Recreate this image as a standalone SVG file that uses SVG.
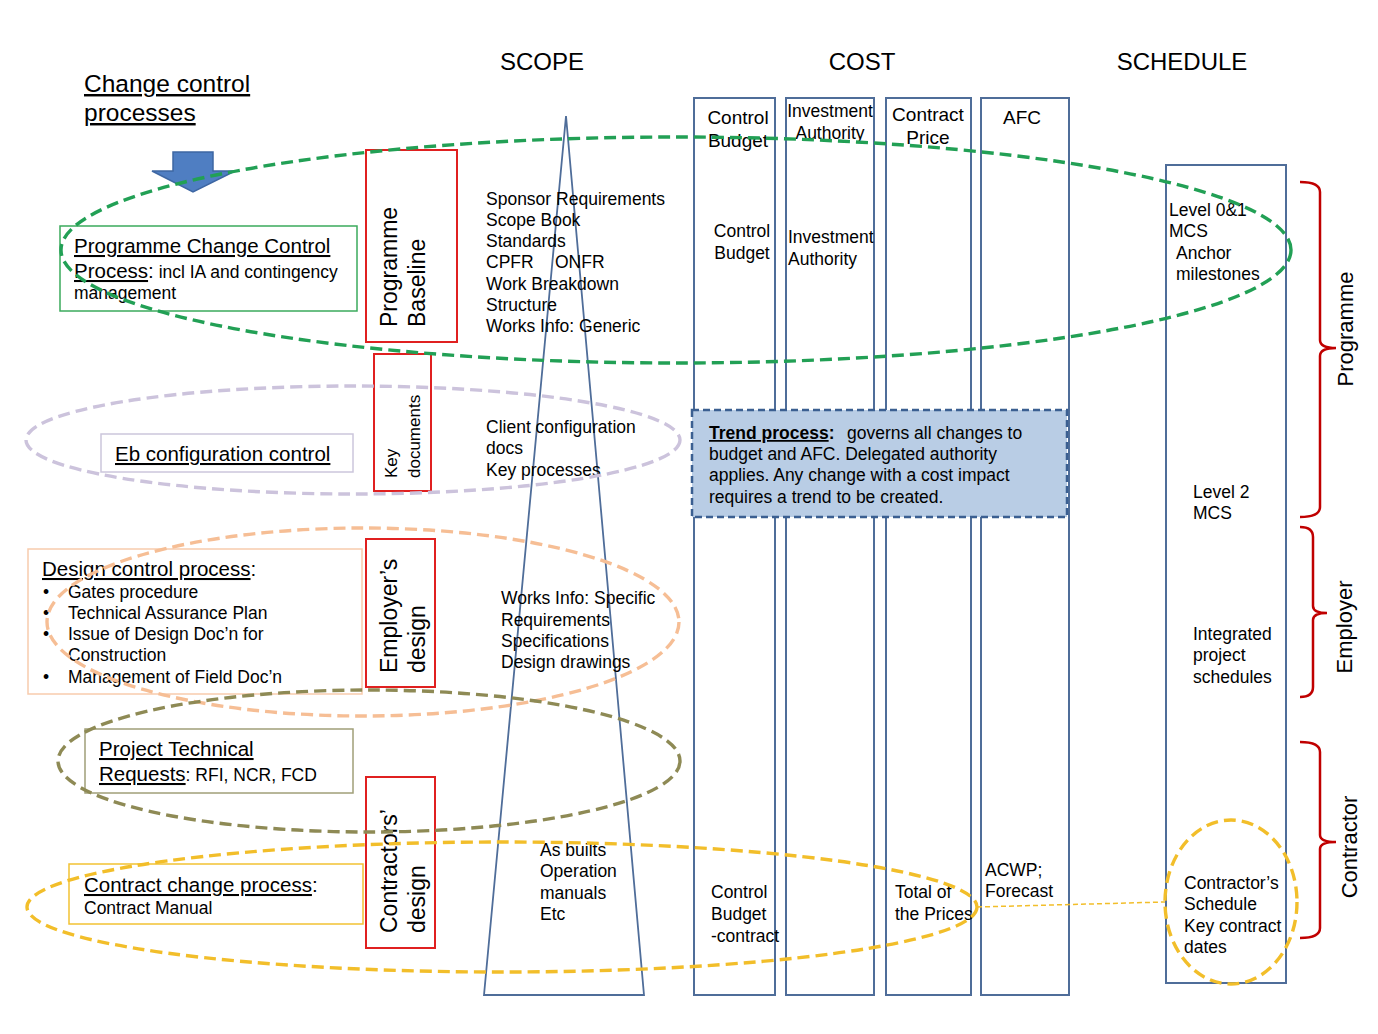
<svg xmlns="http://www.w3.org/2000/svg" width="1378" height="1034" viewBox="0 0 1378 1034">
<style>
text{font-family:"Liberation Sans",Arial,sans-serif;fill:#000}
.h{font-size:24px}
.t{font-size:17.5px}
.m{font-size:19px}
.u{text-decoration:underline}
.col{fill:none;stroke:#4F6D99;stroke-width:2}
.red{fill:none;stroke:#E02020;stroke-width:2}
.ell{fill:none;stroke-width:3.4;stroke-dasharray:12 6}
.brace{fill:none;stroke:#C00000;stroke-width:2.5}
</style>
<rect width="1378" height="1034" fill="#fff"/>

<g id="headings">
<text class="h" x="542" y="70" text-anchor="middle">SCOPE</text>
<text class="h" x="862" y="70" text-anchor="middle">COST</text>
<text class="h" x="1182" y="70" text-anchor="middle">SCHEDULE</text>
</g>

<g id="title">
<text x="84" y="92" style="font-size:24.5px"><tspan class="u">Change control</tspan></text>
<text x="84" y="121" style="font-size:24.5px"><tspan class="u">processes</tspan></text>
</g>

<g id="arrow">
<polygon points="173,152 213,152 213,171 235,171 193,192 152,171 173,171" fill="#4F7EC2" stroke="#3E67A3" stroke-width="1.5"/>
</g>

<g id="scope-triangle">
<polygon points="566,116 644,995 484,995" fill="none" stroke="#4F6D99" stroke-width="1.8"/>
</g>

<g id="cost-col-control-budget">
<rect class="col" x="694" y="98" width="81" height="897"/>
<text class="m" x="738" y="124" text-anchor="middle">Control</text>
<text class="m" x="738" y="147" text-anchor="middle">Budget</text>
<text class="t" x="742" y="237" text-anchor="middle">Control</text>
<text class="t" x="742" y="259" text-anchor="middle">Budget</text>
<text class="t" x="711" y="898">Control</text>
<text class="t" x="711" y="920">Budget</text>
<text class="t" x="711" y="942">-contract</text>
</g>
<g id="cost-col-investment">
<rect class="col" x="786" y="98" width="88" height="897"/>
<text class="t" x="830" y="117" text-anchor="middle">Investment</text>
<text class="t" x="830" y="139" text-anchor="middle">Authority</text>
<text class="t" x="788" y="243">Investment</text>
<text class="t" x="788" y="265">Authority</text>
</g>
<g id="cost-col-contract-price">
<rect class="col" x="886" y="98" width="85" height="897"/>
<text class="m" x="928" y="121" text-anchor="middle">Contract</text>
<text class="m" x="928" y="144" text-anchor="middle">Price</text>
<text class="t" x="895" y="898">Total of</text>
<text class="t" x="895" y="920">the Prices</text>
</g>
<g id="cost-col-afc">
<rect class="col" x="981" y="98" width="88" height="897"/>
<text class="m" x="1022" y="124" text-anchor="middle">AFC</text>
<text class="t" x="985" y="876">ACWP;</text>
<text class="t" x="985" y="897">Forecast</text>
</g>

<g id="schedule-col">
<rect class="col" x="1166" y="165" width="120" height="818"/>
<text class="t" x="1169" y="216">Level 0&amp;1</text>
<text class="t" x="1169" y="237">MCS</text>
<text class="t" x="1176" y="259">Anchor</text>
<text class="t" x="1176" y="280">milestones</text>
<text class="t" x="1193" y="498">Level 2</text>
<text class="t" x="1193" y="519">MCS</text>
<text class="t" x="1193" y="640">Integrated</text>
<text class="t" x="1193" y="661">project</text>
<text class="t" x="1193" y="683">schedules</text>
<text class="t" x="1184" y="889">Contractor’s</text>
<text class="t" x="1184" y="910">Schedule</text>
<text class="t" x="1184" y="932">Key contract</text>
<text class="t" x="1184" y="953">dates</text>
</g>

<g id="scope-programme">
<text class="t" x="486" y="205">Sponsor Requirements</text>
<text class="t" x="486" y="226">Scope Book</text>
<text class="t" x="486" y="247">Standards</text>
<text class="t" x="486" y="268">CPFR<tspan x="555">ONFR</tspan></text>
<text class="t" x="486" y="290">Work Breakdown</text>
<text class="t" x="486" y="311">Structure</text>
<text class="t" x="486" y="332">Works Info: Generic</text>
</g>
<g id="scope-config">
<text class="t" x="486" y="433">Client configuration</text>
<text class="t" x="486" y="454">docs</text>
<text class="t" x="486" y="476">Key processes</text>
</g>
<g id="scope-design">
<text class="t" x="501" y="604">Works Info: Specific</text>
<text class="t" x="501" y="626">Requirements</text>
<text class="t" x="501" y="647">Specifications</text>
<text class="t" x="501" y="668">Design drawings</text>
</g>
<g id="scope-contract">
<text class="t" x="540" y="856">As builts</text>
<text class="t" x="540" y="877">Operation</text>
<text class="t" x="540" y="899">manuals</text>
<text class="t" x="540" y="920">Etc</text>
</g>

<g id="programme-change-box">
<rect x="60" y="226" width="297" height="85" fill="none" stroke="#3BAA5C" stroke-width="1.5"/>
<text x="74" y="253" style="font-size:20.5px"><tspan class="u">Programme Change Control</tspan></text>
<text x="74" y="278" style="font-size:20.5px"><tspan class="u">Process</tspan>:<tspan style="font-size:17.5px"> incl IA and contingency</tspan></text>
<text x="74" y="299" style="font-size:17.5px">management</text>
</g>

<g id="eb-config-box">
<rect x="101" y="434" width="252" height="38" fill="none" stroke="#CCC6DC" stroke-width="1.5"/>
<text x="115" y="461" style="font-size:20.5px"><tspan class="u">Eb configuration control</tspan></text>
</g>

<g id="design-control-box">
<rect x="28" y="549" width="334" height="145" fill="none" stroke="#F8CBAD" stroke-width="1.5"/>
<text x="42" y="576" style="font-size:20.5px"><tspan class="u">Design control process</tspan>:</text>
<text class="t" x="43" y="598">•<tspan x="68">Gates procedure</tspan></text>
<text class="t" x="43" y="619">•<tspan x="68">Technical Assurance Plan</tspan></text>
<text class="t" x="43" y="640">•<tspan x="68">Issue of Design Doc’n for</tspan></text>
<text class="t" x="68" y="661">Construction</text>
<text class="t" x="43" y="683">•<tspan x="68">Management of Field Doc’n</tspan></text>
</g>

<g id="ptr-box">
<rect x="85" y="729" width="268" height="64" fill="none" stroke="#A09F78" stroke-width="1.5"/>
<text x="99" y="756" style="font-size:20.5px"><tspan class="u">Project Technical</tspan></text>
<text x="99" y="781" style="font-size:20.5px"><tspan class="u">Requests</tspan><tspan style="font-size:17.5px">: RFI, NCR, FCD</tspan></text>
</g>

<g id="contract-change-box">
<rect x="69" y="864" width="294" height="60" fill="none" stroke="#F2C233" stroke-width="1.5"/>
<text x="84" y="892" style="font-size:20.5px"><tspan class="u">Contract change process</tspan>:</text>
<text class="t" x="84" y="914">Contract Manual</text>
</g>

<g id="programme-baseline">
<rect class="red" x="366" y="150" width="91" height="192"/>
<text transform="translate(397,327) rotate(-90)" style="font-size:23px">Programme</text>
<text transform="translate(425,327) rotate(-90)" style="font-size:23px">Baseline</text>
</g>
<g id="key-documents">
<rect class="red" x="374" y="354" width="57" height="137"/>
<text transform="translate(397,478) rotate(-90)" style="font-size:17px">Key</text>
<text transform="translate(420,478) rotate(-90)" style="font-size:17px">documents</text>
</g>
<g id="employers-design">
<rect class="red" x="366" y="539" width="69" height="148"/>
<text transform="translate(397,673) rotate(-90)" style="font-size:23px">Employer’s</text>
<text transform="translate(425,673) rotate(-90)" style="font-size:23px">design</text>
</g>
<g id="contractors-design">
<rect class="red" x="366" y="777" width="69" height="171"/>
<text transform="translate(397,933) rotate(-90)" style="font-size:23px">Contractors’</text>
<text transform="translate(425,933) rotate(-90)" style="font-size:23px">design</text>
</g>

<g id="ellipse-programme"><ellipse class="ell" cx="676" cy="250" rx="615" ry="113" stroke="#22A055"/></g>
<g id="ellipse-config"><ellipse class="ell" cx="353" cy="440" rx="327" ry="54" stroke="#CCC3DC"/></g>
<g id="ellipse-design"><ellipse class="ell" cx="363" cy="622" rx="316" ry="94" stroke="#F6BE95"/></g>
<g id="ellipse-ptr"><ellipse class="ell" cx="369" cy="761" rx="311" ry="71" stroke="#8E8A55"/></g>
<g id="ellipse-contract"><ellipse class="ell" cx="502" cy="907" rx="475" ry="65" stroke="#F2BE2A"/></g>
<g id="ellipse-schedule"><ellipse class="ell" cx="1231" cy="902" rx="66" ry="82" stroke="#F2BE2A"/></g>

<g id="connectors">
<line x1="977" y1="907" x2="1165" y2="902" stroke="#F2BE2A" stroke-width="1.5" stroke-dasharray="5 3"/>
</g>

<g id="trend-process">
<rect x="692" y="410" width="375" height="107" fill="#B9CDE5" stroke="#3B5F91" stroke-width="2.5" stroke-dasharray="7 4"/>
<text class="t" x="709" y="439"><tspan font-weight="bold" class="u">Trend process</tspan><tspan font-weight="bold">:</tspan><tspan x="847">governs all changes to</tspan></text>
<text class="t" x="709" y="460">budget and AFC. Delegated authority</text>
<text class="t" x="709" y="481">applies. Any change with a cost impact</text>
<text class="t" x="709" y="503">requires a trend to be created.</text>
</g>

<g id="brace-programme">
<path class="brace" d="M1300,182 Q1320,182 1320,192 L1320,340 Q1320,348 1336,348 Q1320,348 1320,356 L1320,507 Q1320,517 1300,517"/>
<text transform="translate(1353,329) rotate(-90)" text-anchor="middle" style="font-size:22px">Programme</text>
</g>
<g id="brace-employer">
<path class="brace" d="M1300,527 Q1313,527 1313,537 L1313,606 Q1313,613 1327,613 Q1313,613 1313,620 L1313,687 Q1313,697 1300,697"/>
<text transform="translate(1352,627) rotate(-90)" text-anchor="middle" style="font-size:22px">Employer</text>
</g>
<g id="brace-contractor">
<path class="brace" d="M1300,742 Q1320,742 1320,752 L1320,835 Q1320,842 1336,842 Q1320,842 1320,849 L1320,928 Q1320,938 1300,938"/>
<text transform="translate(1357,847) rotate(-90)" text-anchor="middle" style="font-size:22px">Contractor</text>
</g>
</svg>
